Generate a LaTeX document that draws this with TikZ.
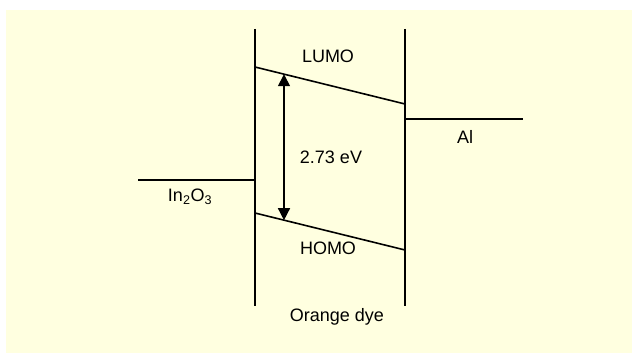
\documentclass[tikz,border=0pt]{standalone}
\usepackage{fontspec}
\setmainfont{Liberation Sans}
\usetikzlibrary{arrows.meta}
\definecolor{bgyellow}{RGB}{255,255,224}
\tikzset{
  level/.style={line width=1.6pt, black},
  lbl/.style={font=\fontsize{18}{22}\selectfont, text=black, inner sep=0pt},
  gap/.style={line width=1.4pt, {Triangle[length=12pt,width=12pt]}-{Triangle[length=12pt,width=12pt]}}
}
\begin{document}
\begin{tikzpicture}[x=1pt,y=-1pt]
\useasboundingbox (0,0) rectangle (632,353);
\fill[bgyellow] (6,10) rectangle (632,353);
% coordinates
\coordinate (LT) at (255,29);
\coordinate (LB) at (255,306);
\coordinate (RT) at (405,29);
\coordinate (RB) at (405,306);
\coordinate (InA) at (138,180);
\coordinate (InB) at (255,180);
\coordinate (LuA) at (255,67);
\coordinate (LuB) at (405,104);
\coordinate (HoA) at (255,213);
\coordinate (HoB) at (405,250);
\coordinate (AlA) at (405,119);
\coordinate (AlB) at (523,119);
\coordinate (GapT) at (284,74.2);
\coordinate (GapB) at (284,220.2);
% lines
\draw[level] (LT) -- (LB);
\draw[level] (RT) -- (RB);
\draw[level] (InA) -- (InB);
\draw[level] (LuA) -- (LuB);
\draw[level] (HoA) -- (HoB);
\draw[level] (AlA) -- (AlB);
\draw[gap] (GapT) -- (GapB);
% labels
\node[lbl] (in) at (190,197) {In\textsubscript{2}O\textsubscript{3}};
\node[lbl] (lumo) at (328,56) {LUMO};
\node[lbl] (homo) at (328,248) {HOMO};
\node[lbl] (ev) at (331,157) {2.73 eV};
\node[lbl] (al) at (465,137) {Al};
\node[lbl] (dye) at (337,317) {Orange dye};
\end{tikzpicture}
\end{document}
